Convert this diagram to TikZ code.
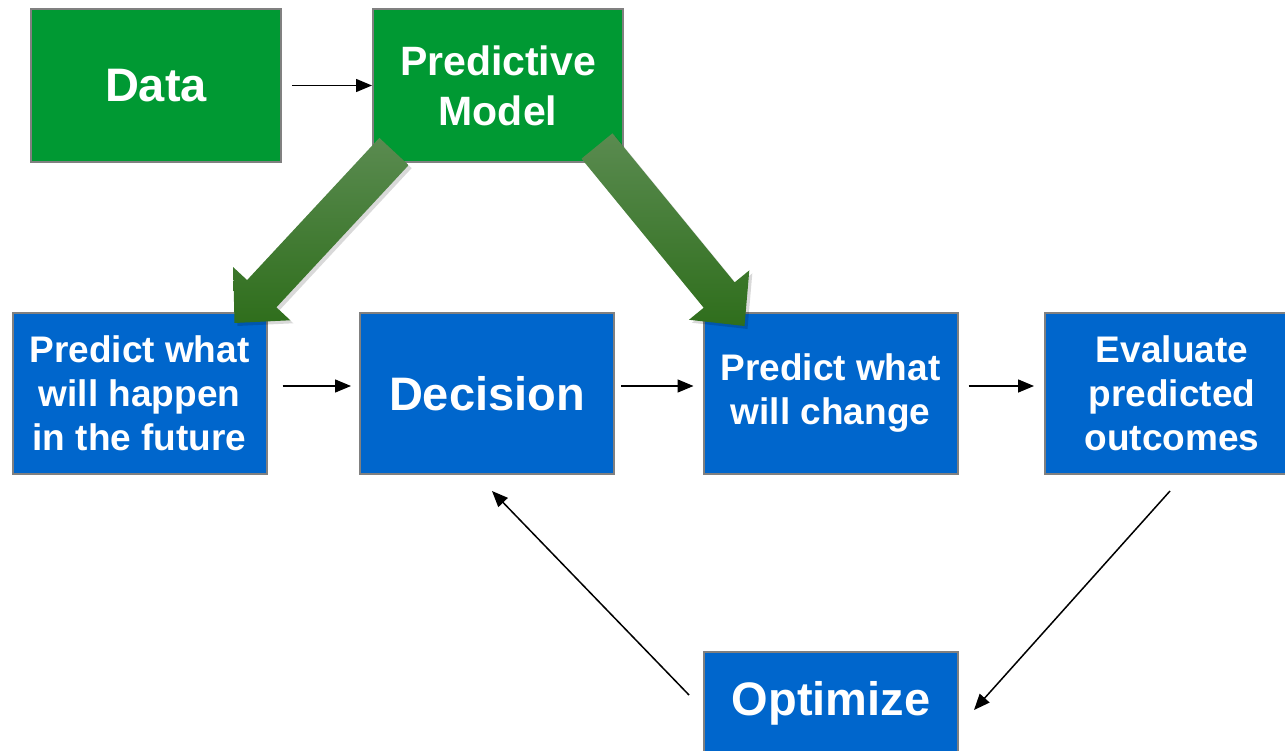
\documentclass[tikz,border=0pt]{standalone}
\usepackage{fontspec}
\setmainfont{Liberation Sans}
\usetikzlibrary{arrows.meta,calc}
\definecolor{boxgreen}{HTML}{009933}
\definecolor{boxblue}{HTML}{0066CC}
\definecolor{boxedge}{HTML}{808080}
\definecolor{fattop}{HTML}{5A8B50}
\definecolor{fatbottom}{HTML}{2F6E1C}
\newcommand{\titlefont}{\fontsize{47}{56}\selectfont}
\newcommand{\modelfont}{\fontsize{41}{50}\selectfont}
\newcommand{\stepfont}{\fontsize{37}{44}\selectfont}
% fat arrow from #1 to #2 as a shaded outline
\newcommand{\fatoutline}[2]{%
	($(#1)!20pt!90:(#2)$) -- ($($(#2)!40pt!(#1)$)!20pt!90:(#2)$) -- ($($(#2)!40pt!(#1)$)!39pt!90:(#2)$) -- (#2)
	-- ($($(#2)!40pt!(#1)$)!39pt!-90:(#2)$) -- ($($(#2)!40pt!(#1)$)!20pt!-90:(#2)$) -- ($(#1)!20pt!-90:(#2)$) -- cycle}
\newcommand{\fatarrow}[2]{%
	\fill[black,opacity=0.15,transform canvas={shift={(3pt,-3pt)}}] \fatoutline{#1}{#2};
	\shade[top color=fattop,bottom color=fatbottom] \fatoutline{#1}{#2};}
\tikzset{
  box/.style={draw=boxedge,line width=2pt,text=white,align=center,inner sep=0pt},
  greenbox/.style={box,fill=boxgreen,minimum width=250pt,minimum height=153pt,font=\bfseries\titlefont},
  bluebox/.style={box,fill=boxblue,minimum width=254pt,minimum height=161pt,font=\bfseries\stepfont},
  flow/.style={line width=1.5pt,-{Triangle[length=16pt,width=13pt]}}
}

\begin{document}
\begin{tikzpicture}[x=1pt,y=-1pt]
	\clip (0,0) rectangle (1285,751);
	% top row
	\node[greenbox] (data) at (156,85.5) {Data};
	\node[greenbox,font=\bfseries\modelfont] (model) at (498,85.5) {Predictive\\Model};
	% middle row
	\node[bluebox] (future) at (139.5,393.5) {Predict what\\will happen\\in the future};
	\node[bluebox,font=\bfseries\titlefont] (decision) at (487,393.5) {Decision};
	\node[bluebox] (change) at (830.5,393.5) {Predict what\\will change};
	\node[bluebox] (evaluate) at (1172,393.5) {Evaluate\\predicted\\outcomes};
	% bottom
	\node[bluebox,font=\bfseries\titlefont,minimum height=103pt] (optimize) at (831,703.5) {Optimize};
	% model feeds both predictions
	\coordinate (tailL) at ([xshift=22pt,yshift=11.5pt]model.south west);
	\coordinate (tipL) at ([xshift=-33pt,yshift=-11pt]future.north east);
	\coordinate (tailR) at ([xshift=-27pt,yshift=17pt]model.south east);
	\coordinate (tipR) at ([xshift=42pt,yshift=-14pt]change.north west);
	\fatarrow{tailL}{tipL}
	\fatarrow{tailR}{tipR}
	% flow
	\draw[flow,shorten <=10pt] (data) -- (model);
	\draw[flow] ([xshift=15pt,yshift=7.5pt]future.east) -- ([xshift=-8pt,yshift=7.5pt]decision.west);
	\draw[flow] ([xshift=6pt,yshift=7.5pt]decision.east) -- ([xshift=-9pt,yshift=7.5pt]change.west);
	\draw[flow] ([xshift=10pt,yshift=7.5pt]change.east) -- ([xshift=-10pt,yshift=7.5pt]evaluate.west);
	\draw[flow] ([xshift=-2pt,yshift=-16pt]evaluate.south) -- ([xshift=15pt,yshift=-6.5pt]optimize.east);
	\draw[flow] ([xshift=-14pt,yshift=8.5pt]optimize.west) -- ([xshift=5pt,yshift=-16pt]decision.south);
\end{tikzpicture}
\end{document}
